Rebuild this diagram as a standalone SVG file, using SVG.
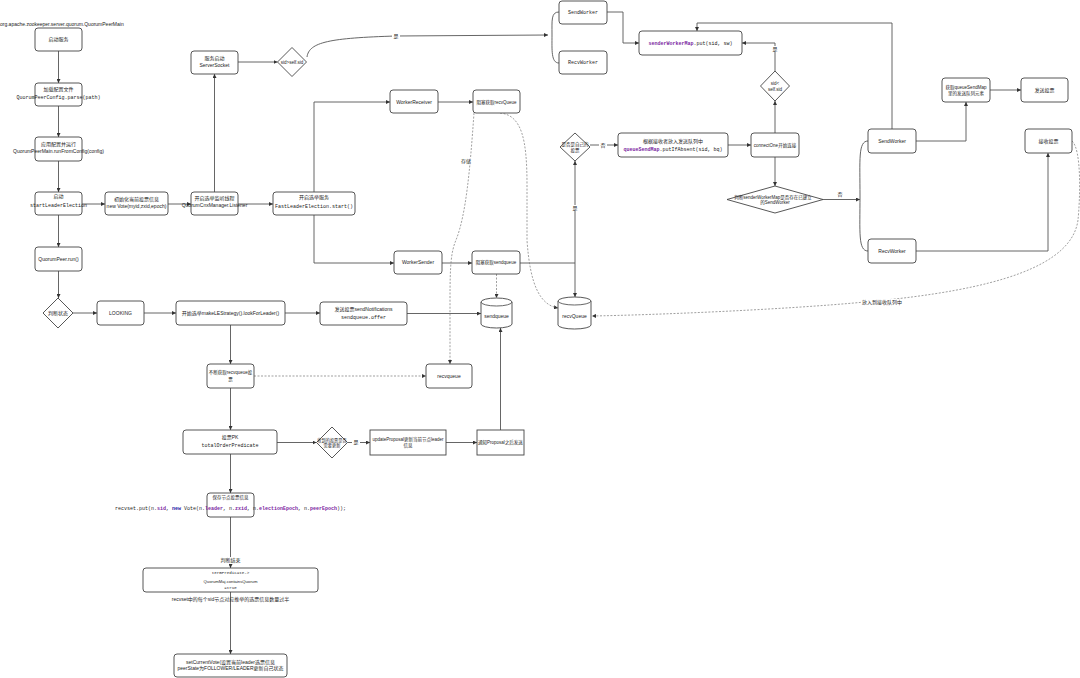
<svg xmlns="http://www.w3.org/2000/svg" width="1080" height="678" viewBox="0 0 1080 678">
<style>
.b{fill:#fff;stroke:#444;stroke-width:0.9}
.l{fill:none;stroke:#555;stroke-width:0.9}
.d{fill:none;stroke:#777;stroke-width:0.7;stroke-dasharray:2 1.5}
.t{font-family:"Liberation Sans","Noto Sans CJK SC",sans-serif;font-size:5px;fill:#222;text-anchor:middle}
.s{font-size:4.5px}
.m{font-family:"Liberation Mono","Noto Sans CJK SC",monospace;font-size:5px;fill:#222;text-anchor:middle}
.p{fill:#7b1fa2;font-weight:bold}
.k{fill:#1a1aa6;font-weight:bold}
.w{fill:#fff}
</style>
<defs>
<marker id="a" viewBox="0 0 6 6" refX="6" refY="3" markerWidth="4" markerHeight="4" orient="auto" markerUnits="userSpaceOnUse"><path d="M0,0L6,3L0,6z" fill="#333"/></marker>
</defs>
<rect width="1080" height="678" fill="#fff"/>

<g id="connectors">
<path class="l" marker-end="url(#a)" d="M58.5,51V83"/>
<path class="l" marker-end="url(#a)" d="M58.5,106V137"/>
<path class="l" marker-end="url(#a)" d="M58.5,161V192"/>
<path class="l" marker-end="url(#a)" d="M58.5,215V247"/>
<path class="l" marker-end="url(#a)" d="M58.5,271V298"/>
<path class="l" marker-end="url(#a)" d="M73,313H97"/>
<path class="l" marker-end="url(#a)" d="M144,313H176"/>
<path class="l" marker-end="url(#a)" d="M285,313H320"/>
<path class="l" marker-end="url(#a)" d="M407,313.5H481"/>
<path class="l" marker-end="url(#a)" d="M82,204H105"/>
<path class="l" marker-end="url(#a)" d="M168,204H191"/>
<path class="l" marker-end="url(#a)" d="M238,204H273"/>
<path class="l" marker-end="url(#a)" d="M214.5,192V74"/>
<path class="l" marker-end="url(#a)" d="M238,62H277.5"/>
<path class="l" marker-end="url(#a)" d="M307,57C309,42 330,38 396,36L548,35"/>
<path class="l" d="M559,12C551,12 552,20 552,35C552,50 551,63 559,63"/>
<path class="l" marker-end="url(#a)" d="M607,12H623V43H639"/>
<path class="l" marker-end="url(#a)" d="M775,71V43H742"/>
<path class="l" marker-end="url(#a)" d="M775,133V101"/>
<path class="l" marker-end="url(#a)" d="M775,157V186"/>
<path class="l" marker-end="url(#a)" d="M823,199.5H860"/>
<path class="l" d="M868,141C858,141 860,160 860,196C860,232 858,251 868,251"/>
<path class="l" marker-end="url(#a)" d="M892,129V23H697V31"/>
<path class="l" marker-end="url(#a)" d="M916,141H966V102"/>
<path class="l" marker-end="url(#a)" d="M990,90H1021"/>
<path class="l" marker-end="url(#a)" d="M916,251H1048V153"/>
<path class="d" marker-end="url(#a)" d="M1072,141C1082,150 1080,200 1078,220C1072,265 1000,290 865,302C780,310 650,315 592,316"/>
<path class="l" marker-end="url(#a)" d="M314,192V102H390"/>
<path class="l" marker-end="url(#a)" d="M314,215V263H394"/>
<path class="l" marker-end="url(#a)" d="M438,102H473"/>
<path class="l" marker-end="url(#a)" d="M442,263H472"/>
<path class="l" d="M520,263H575"/>
<path class="l" marker-end="url(#a)" d="M575,263V161"/>
<path class="l" marker-end="url(#a)" d="M575,263V297"/>
<path class="l" marker-end="url(#a)" d="M590,145H618"/>
<path class="l" marker-end="url(#a)" d="M728,145H751"/>
<path class="d" marker-end="url(#a)" d="M474,113C470,170 466,215 456,240C451,252 450,265 450,300V364"/>
<path class="d" marker-end="url(#a)" d="M500,113C522,115 527,140 527,185V240C530,285 540,305 558,308"/>
<path class="d" marker-end="url(#a)" d="M496.5,274V298"/>
<path class="l" marker-end="url(#a)" d="M230.5,325V364"/>
<path class="d" marker-end="url(#a)" d="M254,376H426"/>
<path class="l" marker-end="url(#a)" d="M230.5,388V430"/>
<path class="l" marker-end="url(#a)" d="M277,442.5H316.5"/>
<path class="l" marker-end="url(#a)" d="M347.5,442.5H370"/>
<path class="l" marker-end="url(#a)" d="M446,442.5H477"/>
<path class="l" marker-end="url(#a)" d="M500.5,430V328"/>
<path class="l" marker-end="url(#a)" d="M230.5,454V493"/>
<path class="l" marker-end="url(#a)" d="M230.5,517V568"/>
<path class="l" marker-end="url(#a)" d="M230.5,592V654"/>
<rect class="w" x="392" y="33" width="8" height="6"/><text class="t" x="396" y="37.8">是</text>
<rect class="w" x="771" y="46" width="8" height="6"/><text class="t" x="775" y="50.8">是</text>
<rect class="w" x="836" y="191" width="8" height="6"/><text class="t" x="840" y="195.5">否</text>
<rect class="w" x="599" y="142.5" width="8" height="6"/><text class="t" x="603" y="147">否</text>
<rect class="w" x="571" y="205" width="8" height="6"/><text class="t" x="575" y="209.8">是</text>
<rect class="w" x="460" y="158.5" width="12" height="6"/><text class="t" x="466" y="163">存储</text>
<rect class="w" x="862" y="299" width="40" height="6"/><text class="t" x="882" y="303.8">放入到接收队列中</text>
<rect class="w" x="352" y="439.5" width="8" height="6"/><text class="t" x="356" y="444">是</text>
<rect class="w" x="219" y="557" width="23" height="7"/><text class="t" x="230.5" y="562">判断结束</text>
</g>

<text class="t" x="0" y="26" style="text-anchor:start">org.apache.zookeeper.server.quorum.QuorumPeerMain</text>

<g id="n1"><rect class="b" x="35" y="28" width="47" height="23" rx="3"/><text class="t" x="58.5" y="41.3">启动服务</text></g>
<g id="n2"><rect class="b" x="35" y="83" width="47" height="23" rx="3"/><text class="t" x="58.5" y="91">加载配置文件</text><text class="m" x="58.5" y="99">QuorumPeerConfig.parse(path)</text></g>
<g id="n3"><rect class="b" x="35" y="137" width="47" height="24" rx="3"/><text class="t" x="58.5" y="146">应用配置并运行</text><text class="t" x="58.5" y="152.5">QuorumPeerMain.runFromConfig(config)</text></g>
<g id="n4"><rect class="b" x="35" y="192" width="47" height="23" rx="3"/><text class="t" x="58.5" y="197.5">启动</text><text class="m" x="58.5" y="207">startLeaderElection</text></g>
<g id="n5"><rect class="b" x="105" y="192" width="63" height="23" rx="3"/><text class="t" x="136.5" y="201">初始化当前投票信息</text><text class="t" x="136.5" y="208">new Vote(myid,zxid,epoch)</text></g>
<g id="n6"><rect class="b" x="191" y="192" width="47" height="23" rx="3"/><text class="t" x="214.5" y="200">开启选举监听线程</text><text class="t" x="214.5" y="207">QuorumCnxManager.Listener</text></g>
<g id="n7"><rect class="b" x="191" y="51" width="47" height="23" rx="3"/><text class="t" x="214.5" y="60">服务启动</text><text class="t" x="214.5" y="67">ServerSocket</text></g>
<g id="n8"><polygon class="b" points="277.5,62 292,47.5 306.5,62 292,76.5"/><text class="t s" x="292" y="63.8">sid&gt;self.sid</text></g>
<g id="n9"><rect class="b" x="273" y="192" width="82" height="23" rx="3"/><text class="t" x="314" y="198.5">开启选举服务</text><text class="m" x="314" y="207.5">FastLeaderElection.start()</text></g>
<g id="n10"><rect class="b" x="390" y="90" width="48" height="23" rx="3"/><text class="t" x="414" y="103.8">WorkerReceiver</text></g>
<g id="n11"><rect class="b" x="473" y="90" width="47" height="23" rx="3"/><text class="t s" x="496.5" y="103.6">阻塞获取recvQueue</text></g>
<g id="n12"><rect class="b" x="394" y="251" width="48" height="23" rx="3"/><text class="t" x="418" y="264.3">WorkerSender</text></g>
<g id="n13"><rect class="b" x="472" y="251" width="48" height="23" rx="3"/><text class="t s" x="496" y="264.3">阻塞获取sendqueue</text></g>
<g id="n14"><rect class="b" x="559" y="1" width="48" height="23" rx="3"/><text class="m" x="583" y="14">SendWorker</text></g>
<g id="n15"><rect class="b" x="559" y="51" width="48" height="23" rx="3"/><text class="m" x="583" y="64.3">RecvWorker</text></g>
<g id="n16"><rect class="b" x="639" y="31" width="103" height="24" rx="3"/><text class="m" x="690.5" y="44.8"><tspan class="p">senderWorkerMap</tspan>.put(sid, sw)</text></g>
<g id="n17"><polygon class="b" points="760.5,86 775,71 789.5,86 775,101"/><text class="t s" x="775" y="85">sid&lt;</text><text class="t s" x="775" y="90.5">self.sid</text></g>
<g id="n18"><polygon class="b" points="560,147 575,133 590,147 575,161"/><text class="t s" x="575" y="146">是否是自己的</text><text class="t s" x="575" y="151.5">投票</text></g>
<g id="n19"><rect class="b" x="618" y="133" width="110" height="24" rx="3"/><text class="t" x="673" y="142.5">根据接收者放入发送队列中</text><text class="m" x="673" y="150.5"><tspan class="p">queueSendMap</tspan>.putIfAbsent(sid, bq)</text></g>
<g id="n20"><rect class="b" x="751" y="133" width="48" height="24" rx="3"/><text class="t s" x="775" y="146.6">connectOne开始连接</text></g>
<g id="n21"><polygon class="b" points="727,199.5 775,186 823,199.5 775,213"/><text class="t s" x="773" y="198.5">判断senderWorkerMap是否存在已建立</text><text class="t s" x="775" y="204">的SendWorker</text></g>
<g id="n22"><rect class="b" x="868" y="129" width="48" height="24" rx="3"/><text class="t" x="892" y="142.8">SendWorker</text></g>
<g id="n23"><rect class="b" x="868" y="239" width="48" height="24" rx="3"/><text class="t" x="892" y="252.8">RecvWorker</text></g>
<g id="n24"><rect class="b" x="942" y="78" width="48" height="24" rx="3"/><text class="t s" x="966" y="88.5">获取queueSendMap</text><text class="t s" x="966" y="94.5">里的发送队列元素</text></g>
<g id="n25"><rect class="b" x="1021" y="78" width="47" height="24" rx="3"/><text class="t" x="1044.5" y="91.8">发送投票</text></g>
<g id="n26"><rect class="b" x="1025" y="129" width="47" height="24" rx="3"/><text class="t" x="1048.5" y="142.8">接收投票</text></g>
<g id="n27"><path class="b" d="M558,301A16.5,4 0 0,1 591,301V325A16.5,4 0 0,1 558,325Z"/><path class="l" d="M558,301A16.5,4 0 0,0 591,301"/><text class="t" x="574.5" y="318">recvQueue</text></g>
<g id="n28"><path class="b" d="M481,302A15.5,4 0 0,1 512,302V324A15.5,4 0 0,1 481,324Z"/><path class="l" d="M481,302A15.5,4 0 0,0 512,302"/><text class="t" x="496.5" y="318">sendqueue</text></g>
<g id="n29"><rect class="b" x="35" y="247" width="47" height="24" rx="3"/><text class="t" x="58.5" y="260.8">QuorumPeer.run()</text></g>
<g id="n30"><polygon class="b" points="43,313 58,298 73,313 58,328"/><text class="t" x="58" y="314.8">判断状态</text></g>
<g id="n31"><rect class="b" x="97" y="301" width="47" height="24" rx="3"/><text class="t" x="120.5" y="314.8">LOOKING</text></g>
<g id="n32"><rect class="b" x="176" y="301" width="109" height="24" rx="3"/><text class="t" x="230.5" y="314.8">开始选举makeLEStrategy().lookForLeader()</text></g>
<g id="n33"><rect class="b" x="320" y="302" width="87" height="23" rx="3"/><text class="t" x="363.5" y="310.5">发送投票sendNotifications</text><text class="m" x="363.5" y="318.5">sendqueue.offer</text></g>
<g id="n34"><rect class="b" x="207" y="364" width="47" height="24" rx="3"/><text class="t s" x="230.5" y="374">不断获取recvqueue投</text><text class="t s" x="230.5" y="380.5">票</text></g>
<g id="n35"><rect class="b" x="426" y="364" width="46" height="24" rx="3"/><text class="t" x="449" y="377.8">recvqueue</text></g>
<g id="n36"><rect class="b" x="183" y="430" width="94" height="24" rx="3"/><text class="t" x="230" y="438.5">投票PK</text><text class="m" x="230" y="446.5">totalOrderPredicate</text></g>
<g id="n37"><polygon class="b" points="316.5,442.5 332,427 347.5,442.5 332,458"/><text class="t" style="font-size:4.2px" x="332" y="441.5">收到的投票是否</text><text class="t" style="font-size:4.2px" x="332" y="446.5">需要更新</text></g>
<g id="n38"><rect class="b" x="370" y="430" width="76" height="25"/><text class="t s" x="408" y="440.5">updateProposal更新当前节点leader</text><text class="t s" x="408" y="447">信息</text></g>
<g id="n39"><rect class="b" x="477" y="430" width="47" height="25"/><text class="t s" x="500.5" y="444">通知Proposal之后发送</text></g>
<g id="n40"><rect class="b" x="207" y="493" width="47" height="24" rx="3"/><text class="t s" x="230.5" y="499">保存节点投票信息</text><text class="m" x="230.5" y="510">recvset.put(n.<tspan class="p">sid</tspan>, <tspan class="k">new</tspan> Vote(n.<tspan class="p">leader</tspan>, n.<tspan class="p">zxid</tspan>, n.<tspan class="p">electionEpoch</tspan>, n.<tspan class="p">peerEpoch</tspan>));</text></g>
<g id="n41"><rect class="b" x="143" y="568" width="175" height="24" rx="3"/><text class="m" style="font-size:4.2px" x="230.5" y="573.5">termPredicate-&gt;</text><text class="t" style="font-size:4.2px" x="230.5" y="583">QuorumMaj.containsQuorum</text><text class="m" style="font-size:4.2px" x="230.5" y="589">=true</text></g>
<text class="t" x="230.5" y="600.5">recvset中的每个sid节点对应推举的选票信息数量过半</text>
<g id="n42"><rect class="b" x="174" y="654" width="113" height="23" rx="3"/><text class="t" x="230.5" y="663.5">setCurrentVote(设置当前leader选票信息</text><text class="t" x="230.5" y="670">peerState为FOLLOWER/LEADER更新自己状态</text></g>
</svg>
